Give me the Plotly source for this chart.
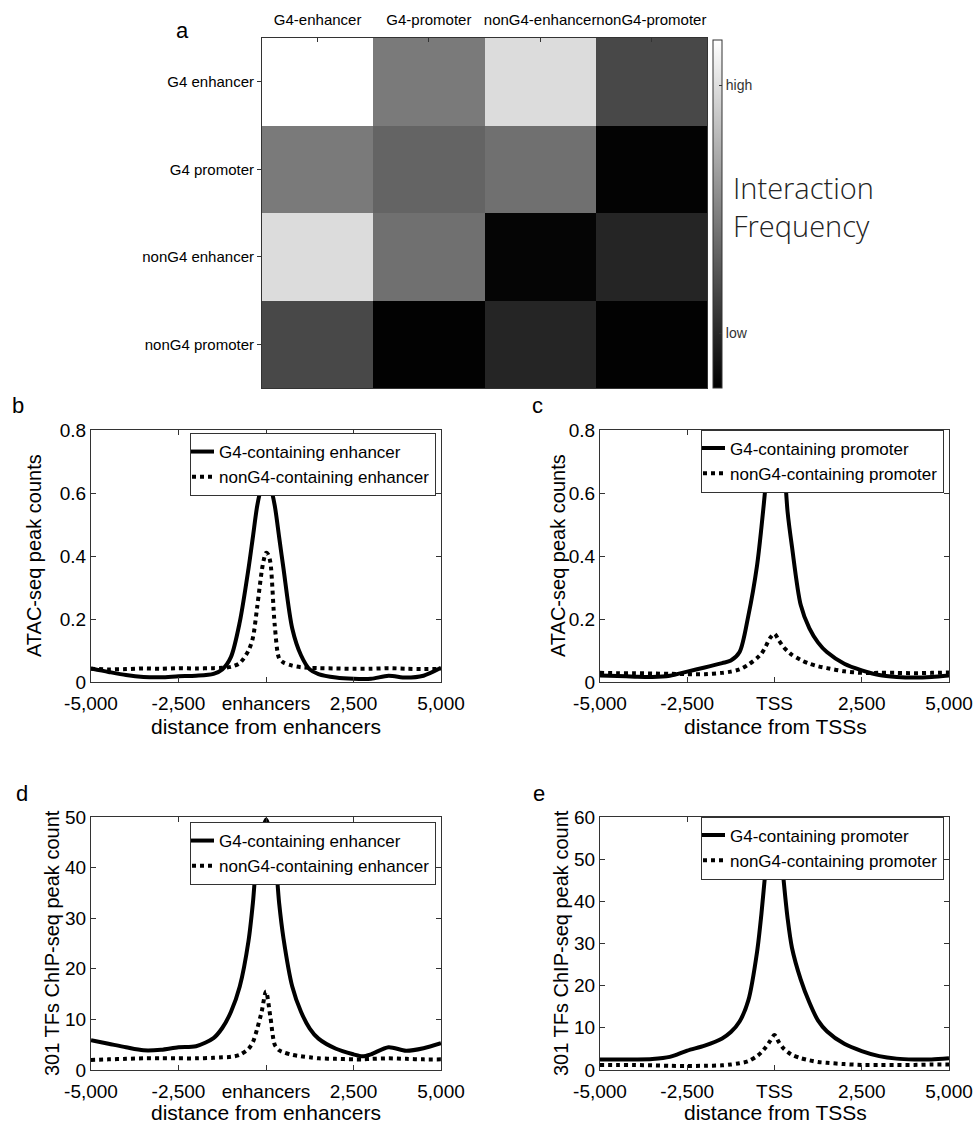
import plotly.graph_objects as go

W, H = 974, 1123


def px(x):
    return x / W


def py(y):
    return 1 - y / H


# ---------------- data ----------------
hm_cols = ["G4-enhancer", "G4-promoter", "nonG4-enhancer", "nonG4-promoter"]
hm_rows = ["G4 enhancer", "G4 promoter", "nonG4 enhancer", "nonG4 promoter"]
hm_z = [
    [255, 122, 220, 72],
    [122, 100, 112, 3],
    [220, 112, 5, 37],
    [72, 2, 37, 2],
]
cbar_tickvals = [40, 222]
cbar_ticktext = ["low", "high"]

x_b = [-5000, -4500, -4000, -3500, -3000, -2500, -2000, -1500, -1250, -1000, -750, -500, -375, -250, -125, -60, 0,
       60, 125, 250, 375, 500, 750, 1000, 1250, 1500, 2000, 2500, 3000, 3500, 4000, 4500, 5000]
b_g4 = [0.043, 0.032, 0.022, 0.016, 0.015, 0.018, 0.020, 0.026, 0.040, 0.080, 0.19, 0.36, 0.46, 0.56, 0.62, 0.636, 0.64,
        0.636, 0.62, 0.56, 0.46, 0.36, 0.17, 0.085, 0.040, 0.025, 0.014, 0.010, 0.010, 0.020, 0.014, 0.020, 0.045]
b_non = [0.042, 0.040, 0.041, 0.043, 0.042, 0.044, 0.043, 0.044, 0.045, 0.048, 0.060, 0.10, 0.14, 0.24, 0.35, 0.39, 0.41,
         0.405, 0.38, 0.18, 0.075, 0.062, 0.052, 0.047, 0.045, 0.044, 0.043, 0.042, 0.042, 0.044, 0.042, 0.041, 0.042]

x_c = [-5000, -4500, -4000, -3500, -3000, -2500, -2000, -1500, -1250, -1000, -750, -500, -375, -250, -125, 0,
       125, 250, 375, 500, 750, 1000, 1250, 1500, 2000, 2500, 3000, 3500, 4000, 4500, 5000]
c_g4 = [0.021, 0.019, 0.017, 0.016, 0.020, 0.033, 0.046, 0.060, 0.068, 0.095, 0.21, 0.37, 0.49, 0.63, 0.80, 0.95,
        0.88, 0.74, 0.54, 0.43, 0.245, 0.17, 0.125, 0.095, 0.058, 0.037, 0.022, 0.016, 0.014, 0.016, 0.021]
c_non = [0.029, 0.028, 0.028, 0.027, 0.026, 0.025, 0.025, 0.029, 0.033, 0.040, 0.055, 0.076, 0.090, 0.113, 0.140, 0.153,
         0.132, 0.112, 0.098, 0.086, 0.070, 0.058, 0.050, 0.044, 0.034, 0.029, 0.029, 0.029, 0.028, 0.029, 0.030]

x_d = [-5000, -4500, -4000, -3500, -3000, -2500, -2000, -1500, -1250, -1000, -750, -500, -375, -250, -125, 0,
       125, 250, 375, 500, 750, 1000, 1250, 1500, 2000, 2500, 2750, 3000, 3500, 4000, 4500, 5000]
d_g4 = [5.9, 5.2, 4.5, 3.9, 4.0, 4.5, 4.7, 6.3, 8.3, 11.5, 16.5, 25.5, 33.0, 43.0, 47.0, 49.5,
        47.0, 43.0, 33.0, 26.0, 16.5, 11.5, 8.2, 6.2, 4.2, 3.1, 2.7, 3.1, 4.5, 3.8, 4.3, 5.3]
d_non = [2.0, 2.1, 2.2, 2.3, 2.3, 2.3, 2.3, 2.4, 2.5, 2.6, 3.0, 4.2, 5.5, 8.2, 11.5, 15.5,
         10.5, 5.0, 3.9, 3.5, 3.0, 2.7, 2.5, 2.3, 2.2, 2.1, 2.1, 2.2, 2.3, 2.2, 2.1, 2.1]

x_e = [-5000, -4500, -4000, -3500, -3000, -2500, -2000, -1500, -1250, -1000, -750, -500, -375, -250, -125, 0,
       125, 250, 375, 500, 750, 1000, 1250, 1500, 2000, 2500, 3000, 3500, 4000, 4500, 5000]
e_g4 = [2.5, 2.5, 2.5, 2.6, 3.1, 4.6, 5.8, 7.5, 9.0, 11.5, 16.5, 28.0, 37.0, 48.0, 58.0, 64.0,
        58.0, 46.0, 36.0, 29.0, 21.5, 16.0, 11.7, 9.2, 6.2, 4.5, 3.3, 2.7, 2.5, 2.5, 2.8]
e_non = [1.2, 1.2, 1.2, 1.1, 1.0, 0.95, 1.0, 1.1, 1.3, 1.6, 2.1, 3.3, 4.2, 5.4, 6.9, 8.3,
         6.6, 5.2, 4.3, 3.6, 2.8, 2.3, 1.9, 1.7, 1.4, 1.2, 1.2, 1.2, 1.2, 1.3, 1.3]

x_tickvals = [-5000, -2500, 0, 2500, 5000]
x_ticktext_enh = ["-5,000", "-2,500", "enhancers", "2,500", "5,000"]
x_ticktext_tss = ["-5,000", "-2,500", "TSS", "2,500", "5,000"]
y_ticks_atac = [0, 0.2, 0.4, 0.6, 0.8]
y_ticktext_atac = ["0", "0.2", "0.4", "0.6", "0.8"]
y_ticks_d = [0, 10, 20, 30, 40, 50]
y_ticks_e = [0, 10, 20, 30, 40, 50, 60]

FONT = "Liberation Sans, Arial, sans-serif"
NARROW = "Liberation Sans Narrow, Arial Narrow, Liberation Sans, Arial, sans-serif"
AX = "#333333"

fig = go.Figure()

# ---------------- heatmap ----------------
fig.add_trace(go.Heatmap(
    z=hm_z, x=hm_cols, y=hm_rows, zmin=0, zmax=255,
    colorscale=[[0, "#000000"], [1, "#ffffff"]],
    xaxis="x", yaxis="y",
    colorbar=dict(
        x=px(713), xanchor="left", y=py(40), yanchor="top",
        len=348 / H, lenmode="fraction", thickness=9, thicknessmode="pixels",
        xpad=0, ypad=0, outlinewidth=1, outlinecolor=AX,
        tickvals=cbar_tickvals, ticktext=cbar_ticktext, ticks="inside", ticklen=3,
        tickcolor=AX, tickfont=dict(size=14, family=FONT, color="#333"),
    ),
    showscale=True,
))

panels = [
    ("2", x_b, b_g4, b_non, "G4-containing enhancer", "nonG4-containing enhancer", "legend"),
    ("3", x_c, c_g4, c_non, "G4-containing promoter", "nonG4-containing promoter", "legend2"),
    ("4", x_d, d_g4, d_non, "G4-containing enhancer", "nonG4-containing enhancer", "legend3"),
    ("5", x_e, e_g4, e_non, "G4-containing promoter", "nonG4-containing promoter", "legend4"),
]
for ax, xs, g4, non, n1, n2, leg in panels:
    fig.add_trace(go.Scatter(x=xs, y=g4, mode="lines", name=n1, legend=leg,
                             line=dict(color="black", width=4, shape="spline", smoothing=0.8),
                             xaxis="x" + ax, yaxis="y" + ax))
    fig.add_trace(go.Scatter(x=xs, y=non, mode="lines", name=n2, legend=leg,
                             line=dict(color="black", width=4, dash="dot", shape="spline", smoothing=0.8),
                             xaxis="x" + ax, yaxis="y" + ax))

common_x = dict(range=[-5000, 5000], tickvals=x_tickvals, ticks="inside", ticklen=5, tickcolor=AX,
                showline=True, linecolor=AX, linewidth=1, mirror="ticks", showgrid=False, zeroline=False,
                tickfont=dict(size=19, family=FONT, color="black"), tickangle=0, automargin=False,
                ticklabelstandoff=4)
common_y = dict(ticks="inside", ticklen=5, tickcolor=AX,
                showline=True, linecolor=AX, linewidth=1, mirror="ticks", showgrid=False, zeroline=False,
                tickfont=dict(size=19, family=FONT, color="black"), automargin=False)

xl, xr = px(91), px(441)
xl2, xr2 = px(600), px(949)
ytop1, ybot1 = py(430), py(682)
ytop2, ybot2 = py(817), py(1070)

leg_common = dict(bgcolor="white", bordercolor=AX, borderwidth=1, xanchor="right", yanchor="top",
                  font=dict(size=17, family=FONT, color="black"), tracegroupgap=0, itemwidth=30,
                  indentation=-12)

fig.update_layout(
    template="none",
    width=W, height=H, margin=dict(l=0, r=0, t=0, b=0, pad=0, autoexpand=False),
    paper_bgcolor="white", plot_bgcolor="white",
    font=dict(family=FONT, color="black"),
    showlegend=True,
    xaxis=dict(domain=[px(262), px(707)], anchor="y", side="top", tickangle=0, ticks="inside", ticklen=4,
               tickcolor=AX, showline=True, linecolor=AX, mirror=True, showgrid=False, zeroline=False,
               ticklabelstandoff=6, automargin=False,
               tickfont=dict(size=15, family=NARROW, color="black")),
    yaxis=dict(domain=[py(388), py(38)], anchor="x", autorange="reversed", ticks="outside", ticklen=4,
               tickcolor=AX, showline=True, linecolor=AX, mirror=True, showgrid=False, zeroline=False,
               automargin=False,
               tickfont=dict(size=15, family=NARROW, color="black")),
    xaxis2=dict(domain=[xl, xr], anchor="y2", ticktext=x_ticktext_enh, **common_x),
    yaxis2=dict(domain=[ybot1, ytop1], anchor="x2", range=[0, 0.8], tickvals=y_ticks_atac,
                ticktext=y_ticktext_atac, **common_y),
    xaxis3=dict(domain=[xl2, xr2], anchor="y3", ticktext=x_ticktext_tss, **common_x),
    yaxis3=dict(domain=[ybot1, ytop1], anchor="x3", range=[0, 0.8], tickvals=y_ticks_atac,
                ticktext=y_ticktext_atac, **common_y),
    xaxis4=dict(domain=[xl, xr], anchor="y4", ticktext=x_ticktext_enh, **common_x),
    yaxis4=dict(domain=[ybot2, ytop2], anchor="x4", range=[0, 50], tickvals=y_ticks_d, **common_y),
    xaxis5=dict(domain=[xl2, xr2], anchor="y5", ticktext=x_ticktext_tss, **common_x),
    yaxis5=dict(domain=[ybot2, ytop2], anchor="x5", range=[0, 60], tickvals=y_ticks_e, **common_y),
    legend=dict(x=px(436), y=py(433), **leg_common),
    legend2=dict(x=px(944), y=py(429.5), **leg_common),
    legend3=dict(x=px(436), y=py(822), **leg_common),
    legend4=dict(x=px(944), y=py(816.5), **leg_common),
)

ann = []


def add_text(text, x, y, size, angle=0, family=FONT):
    ann.append(dict(text=text, x=px(x), y=py(y), xref="paper", yref="paper", showarrow=False,
                    textangle=angle, font=dict(size=size, family=family, color="black"),
                    xanchor="center", yanchor="middle"))


# axis titles
add_text("distance from enhancers", 266, 726, 21)
add_text("distance from TSSs", 775, 726, 21)
add_text("distance from enhancers", 266, 1112, 21)
add_text("distance from TSSs", 775, 1112, 21)
add_text("ATAC-seq peak counts", 34, 556, 20, angle=-90)
add_text("ATAC-seq peak counts", 558, 556, 20, angle=-90)
add_text("301 TFs ChIP-seq peak count", 52, 943, 20, angle=-90)
add_text("301 TFs ChIP-seq peak count", 561, 943, 20, angle=-90)
# panel letters
add_text("a", 182, 30, 22)
add_text("b", 18, 405, 22)
add_text("c", 537, 405, 22)
add_text("d", 22, 793, 22)
add_text("e", 539, 793, 22)
# colorbar title
ann.append(dict(text="Interaction<br>Frequency", x=px(731), y=py(207), xref="paper", yref="paper",
                showarrow=False, xanchor="left", yanchor="middle", align="left",
                font=dict(size=29, family="Open Sans, Lato, sans-serif", color="#222", weight=300)))

fig.update_layout(annotations=ann)

fig.write_html("out.html")
